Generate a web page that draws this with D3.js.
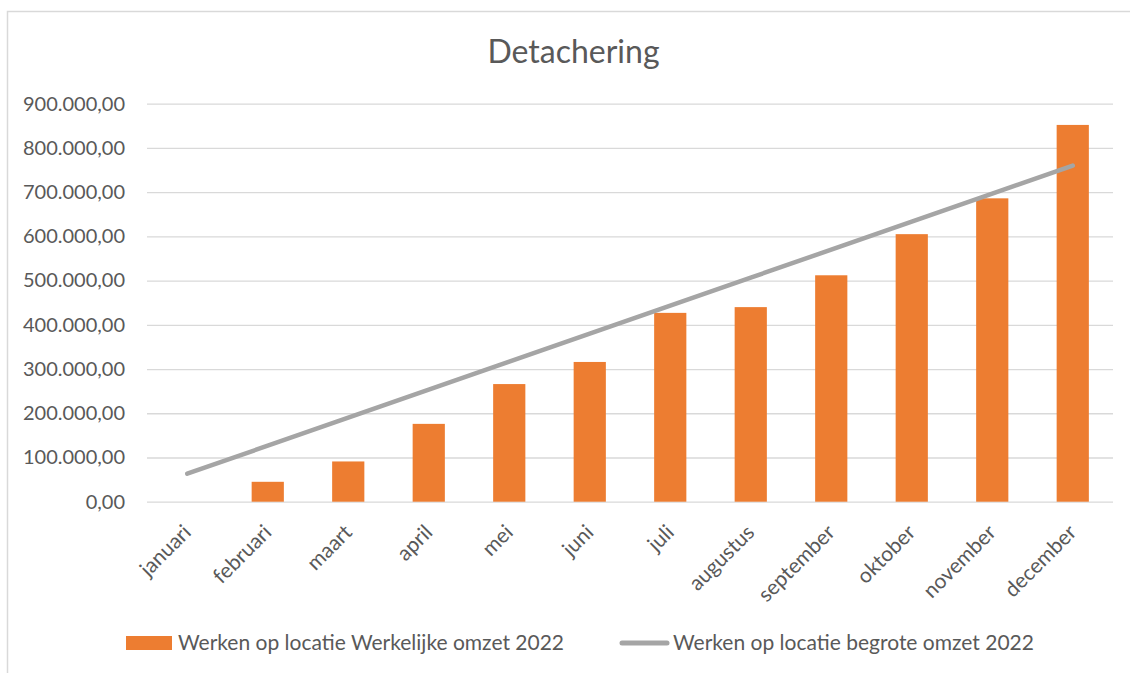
<!DOCTYPE html>
<html>
<head>
<meta charset="utf-8">
<script src="https://cdn.jsdelivr.net/npm/d3@7"></script>
<style>
  html, body { margin: 0; padding: 0; background: #fff; }
  svg { display: block; }
  text { font-family: Lato, "Open Sans", sans-serif; fill: #595959; }
</style>
</head>
<body>
<svg id="chart" width="1130" height="673"></svg>
<script>
const title = "Detachering";
const months = ["januari","februari","maart","april","mei","juni","juli","augustus","september","oktober","november","december"];
const werkelijk = [null, 45000, 91000, 176000, 266000, 316000, 427000, 440000, 512000, 605000, 686000, 852000];
const begroot = [63333, 126667, 190000, 253333, 316667, 380000, 443333, 506667, 570000, 633333, 696667, 760000];
const yTicks = [0, 100000, 200000, 300000, 400000, 500000, 600000, 700000, 800000, 900000];
const seriesNames = ["Werken op locatie Werkelijke omzet 2022", "Werken op locatie begrote omzet 2022"];
const colors = { bar: "#ed7d31", line: "#a5a5a5", grid: "#d9d9d9", text: "#595959" };

const svg = d3.select("#chart");
const W = 1130, H = 673;
const plot = { left: 147, right: 1113, top: 103.7, bottom: 501.7 };

const nl = d3.formatLocale({ decimal: ",", thousands: ".", grouping: [3], currency: ["€", ""] });
const fmt = nl.format(",.2f");

// border
svg.append("rect")
  .attr("x", 7.5).attr("y", 11.5)
  .attr("width", W + 10).attr("height", H + 10)
  .attr("fill", "none").attr("stroke", "#d9d9d9").attr("stroke-width", 1.5);

const x = d3.scaleBand().domain(months)
  .range([plot.left, plot.right]).paddingInner(0.6).paddingOuter(0.3);
const y = d3.scaleLinear().domain([0, 900000]).range([plot.bottom, plot.top]);

// title
svg.append("text")
  .attr("x", 573.5).attr("y", 63)
  .attr("text-anchor", "middle")
  .style("font-size", "32px")
  .text(title);

// gridlines + y labels via axis
const yAxis = d3.axisLeft(y).tickValues(yTicks).tickFormat(fmt)
  .tickSize(-(plot.right - plot.left)).tickPadding(22);
const gy = svg.append("g").attr("transform", `translate(${plot.left},0)`).call(yAxis);
gy.select(".domain").remove();
gy.selectAll(".tick line").attr("stroke", colors.grid).attr("stroke-width", 1.3);
gy.selectAll(".tick text")
  .style("font-size", "20px").style("font-family", "Lato, sans-serif")
  .attr("fill", colors.text);

// bars
svg.append("g").selectAll("rect")
  .data(months.map((m, i) => ({ m, v: werkelijk[i] })).filter(d => d.v != null && d.v > 0))
  .join("rect")
  .attr("x", d => x(d.m))
  .attr("width", x.bandwidth())
  .attr("y", d => y(d.v))
  .attr("height", d => y(0) - y(d.v))
  .attr("fill", colors.bar);

// line
const line = d3.line()
  .x((d, i) => x(months[i]) + x.bandwidth() / 2)
  .y(d => y(d));
svg.append("path")
  .datum(begroot)
  .attr("d", line)
  .attr("fill", "none")
  .attr("stroke", colors.line)
  .attr("stroke-width", 4.5)
  .attr("stroke-linecap", "round")
  .attr("stroke-linejoin", "round");

// x axis labels
const xAxis = d3.axisBottom(x).tickSize(0).tickPadding(0);
const gx = svg.append("g").attr("transform", `translate(0,${plot.bottom})`).call(xAxis);
gx.select(".domain").remove();
gx.selectAll(".tick text")
  .attr("y", 0).attr("dy", 0)
  .attr("text-anchor", "end")
  .attr("transform", "translate(5,32) rotate(-45)")
  .style("font-size", "21px").style("font-family", "Lato, sans-serif")
  .attr("fill", colors.text);

// legend
const lg = svg.append("g");
lg.append("rect").attr("x", 126).attr("y", 636).attr("width", 46).attr("height", 14).attr("fill", colors.bar);
lg.append("text").attr("x", 178).attr("y", 650).style("font-size", "21px").text(seriesNames[0]);
lg.append("line").attr("x1", 622).attr("x2", 667).attr("y1", 643).attr("y2", 643)
  .attr("stroke", colors.line).attr("stroke-width", 5).attr("stroke-linecap", "round");
lg.append("text").attr("x", 673).attr("y", 650).style("font-size", "21px").text(seriesNames[1]);
</script>
</body>
</html>
